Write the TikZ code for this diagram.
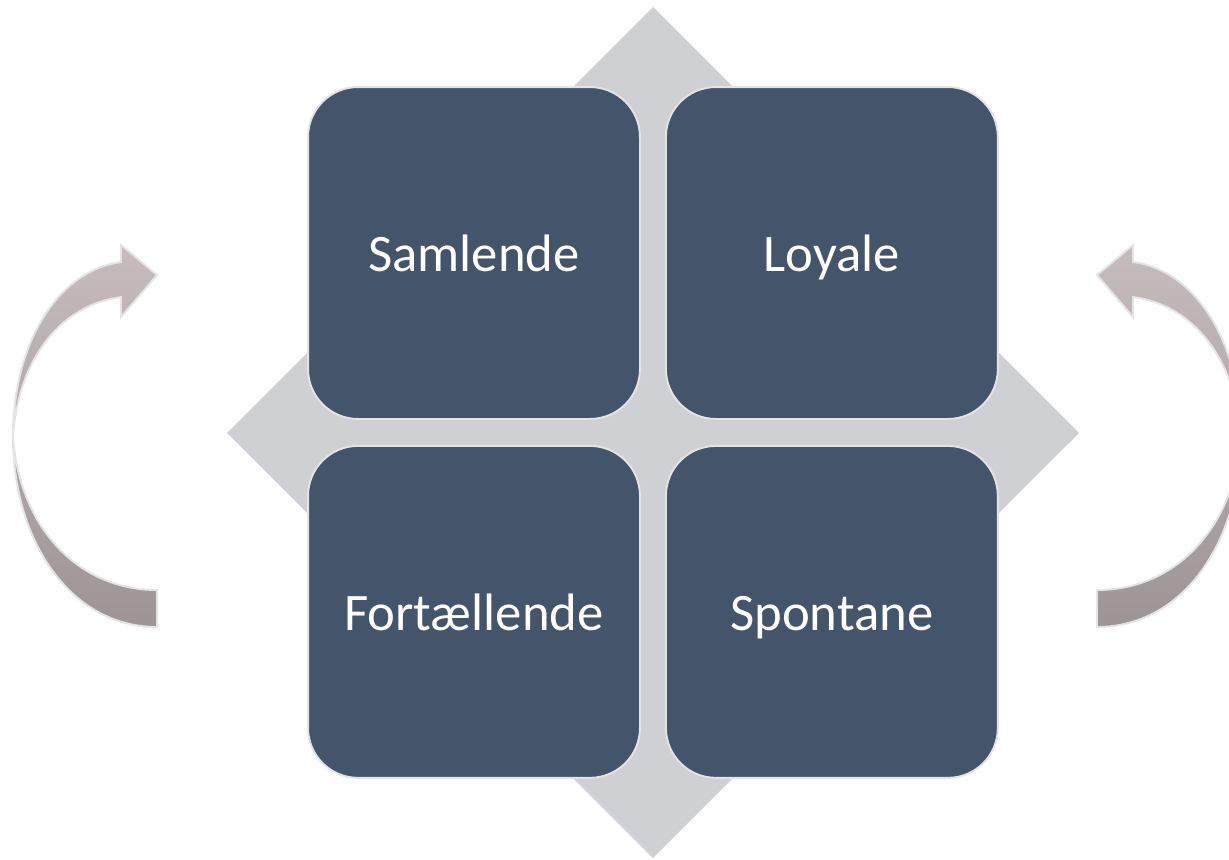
\documentclass[tikz,border=0pt]{standalone}
\usepackage{fontspec}
\setmainfont{Carlito}
\usetikzlibrary{positioning}
\definecolor{slate}{HTML}{44546A}
\definecolor{rim}{HTML}{E4E4E6}
\definecolor{kite}{HTML}{CFD0D4}
\definecolor{arrowtop}{HTML}{C6BCBE}
\definecolor{arrowbot}{HTML}{9C9495}
\newcommand{\bendarrow}{%
  (157,590) -- (157,627) .. controls (70,627) and (13,540) .. (13,437)
  .. controls (13,340) and (60,270) .. (121,262) -- (121,245) -- (157,275)
  -- (121,317) -- (121,297) .. controls (60,305) and (18,360) .. (13,437)
  .. controls (20,530) and (80,590) .. (157,590) -- cycle}
\tikzset{
  tile/.style={rectangle, rounded corners=1cm, fill=slate, draw=rim, line width=1.1pt,
    minimum width=6.64cm, minimum height=6.64cm, text=white,
    text height=21.5pt, text depth=0pt,
    font=\fontsize{30}{36}\selectfont},
  turn/.style={top color=arrowtop, bottom color=arrowbot, draw=rim, line width=1.1pt}
}
\begin{document}
\begin{tikzpicture}[x=0.02cm, y=-0.02cm]
            \useasboundingbox (0,0) rectangle (1229,859);
            \clip (0,0) rectangle (1229,859);
            \fill[kite] (653,7) -- (1079,433) -- (653,858) -- (227,433) -- cycle;

            \node[tile] (samlende) at (474,253) {Samlende};
            \node[tile, right=0.48cm of samlende] (loyale) {Loyale};
            \node[tile, below=0.5cm of samlende] (fortaellende) {Fortællende};
            \node[tile, below=0.5cm of loyale] (spontane) {Spontane};

            \path[turn] \bendarrow;
            \begin{scope}[shift={(1254,0)}, xscale=-1]
              \path[turn] \bendarrow;
            \end{scope}
        \end{tikzpicture}
\end{document}
